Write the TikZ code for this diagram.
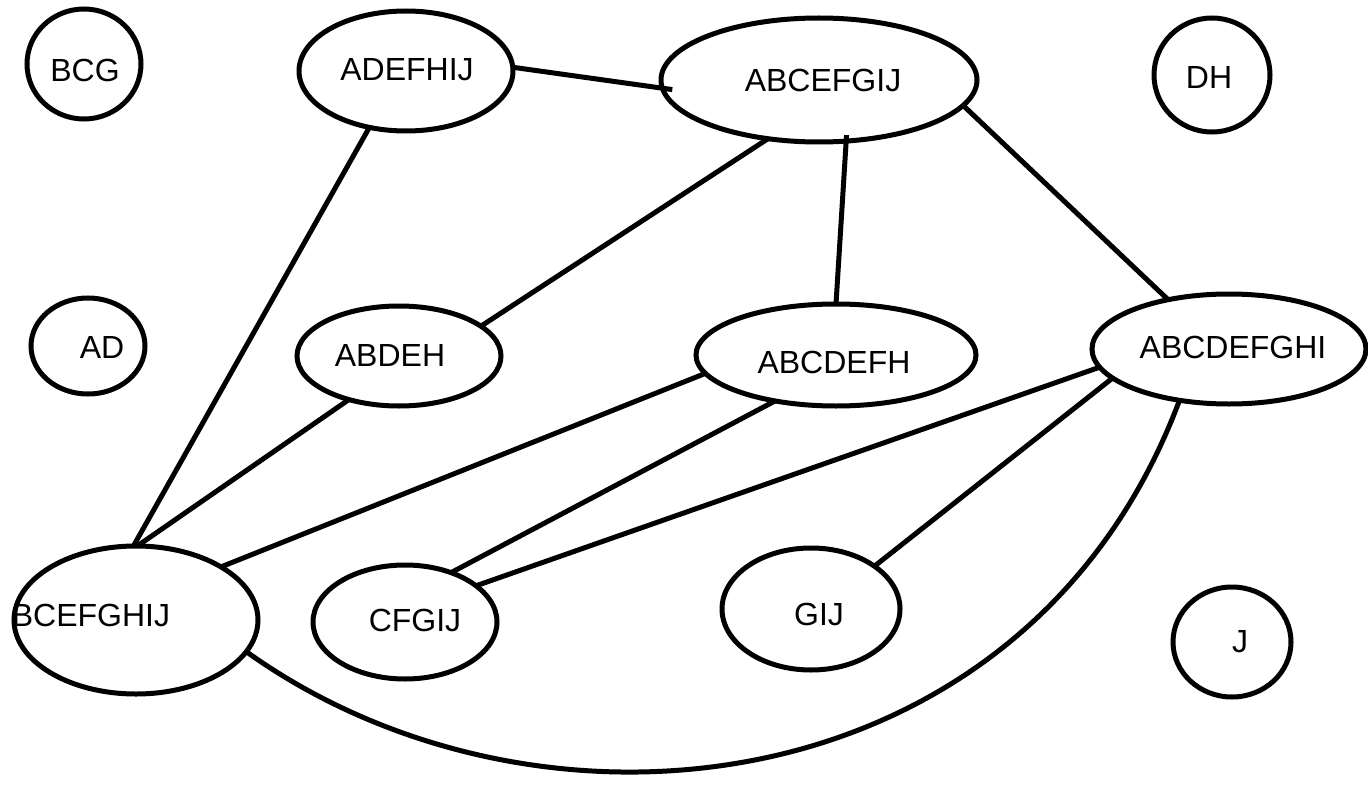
\documentclass[tikz,border=0pt]{standalone}
\usepackage{fontspec}
\setmainfont{Liberation Sans}
\usetikzlibrary{shapes.geometric}
\tikzset{
  blob/.style={ellipse, draw, line width=5pt, inner sep=0pt, outer sep=0pt},
  lab/.style={inner sep=0pt, font=\fontsize{32}{38}\selectfont},
  link/.style={line width=5pt}
}
\begin{document}
\begin{tikzpicture}[x=1pt, y=-1pt]
\useasboundingbox (0,0) rectangle (1368,797);

% cliques
\node[blob, minimum width=114pt, minimum height=110pt] (bcg)       at (84,64)   {};
\node[blob, minimum width=214pt, minimum height=120pt] (adefhij)   at (406,71)  {};
\node[blob, minimum width=316pt, minimum height=124pt] (abcefgij)  at (819,80)  {};
\node[blob, minimum width=116pt, minimum height=114pt] (dh)        at (1212,75) {};
\node[blob, minimum width=114pt, minimum height=96pt]  (ad)        at (88,346)  {};
\node[blob, minimum width=204pt, minimum height=100pt] (abdeh)     at (399,356) {};
\node[blob, minimum width=280pt, minimum height=102pt] (abcdefh)   at (836,355) {};
\node[blob, minimum width=274pt, minimum height=110pt] (abcdefghi) at (1229,349) {};
\node[blob, minimum width=244pt, minimum height=148pt,
      path picture={\node[lab] (bcefghij-t) at ([shift={(-45,-5)}]path picture bounding box.center) {BCEFGHIJ};}]
      (bcefghij) at (136,620) {};
\node[blob, minimum width=184pt, minimum height=114pt] (cfgij)     at (405,622) {};
\node[blob, minimum width=178pt, minimum height=122pt] (gij)       at (811,609) {};
\node[blob, minimum width=118pt, minimum height=110pt] (j)         at (1232,642) {};

% labels
\node[lab] (bcg-t)       at (85,70)    {BCG};
\node[lab] (adefhij-t)   at (407,70)   {ADEFHIJ};
\node[lab] (abcefgij-t)  at (823,80)   {ABCEFGIJ};
\node[lab] (dh-t)        at (1209,77)  {DH};
\node[lab] (ad-t)        at (102,347)  {AD};
\node[lab] (abdeh-t)     at (390,355)  {ABDEH};
\node[lab] (abcdefh-t)   at (834,362)  {ABCDEFH};
\node[lab] (abcdefghi-t) at (1233,347) {ABCDEFGHI};
\node[lab] (cfgij-t)     at (415,620)  {CFGIJ};
\node[lab] (gij-t)       at (819,614)  {GIJ};
\node[lab] (j-t)         at (1240,642) {J};

% edges
\draw[link, shorten >=-10pt] (adefhij.2) -- (abcefgij.183);
\draw[link] (adefhij.237) -- (bcefghij.92);
\draw[link] (abcefgij.229) -- (abdeh.20);
\draw[link, shorten <=-6pt] (abcefgij.-66) -- (abcdefh.90);
\draw[link] (abcefgij.-10) -- (abcdefghi.141);
\draw[link] (abdeh.221) -- (bcefghij.89);
\draw[link] (abcdefh.188) -- (bcefghij.32);
\draw[link] (abcdefh.217) -- (cfgij.47);
\draw[link] (abcdefghi.188) -- (cfgij.27);
\draw[link] (abcdefghi.194) -- (gij.34);
\draw[link] (bcefghij.-16) .. controls (540,862) and (1027,808) .. (abcdefghi.226);
\end{tikzpicture}
\end{document}
